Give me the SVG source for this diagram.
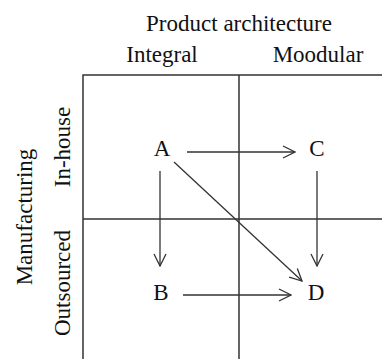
<svg xmlns="http://www.w3.org/2000/svg" width="382" height="359" viewBox="0 0 382 359">
<defs>
<style>
text{font-family:"Liberation Serif","Times New Roman",serif;font-size:23px;fill:#111;text-anchor:middle}
.grid{stroke:#333;stroke-width:1.5;fill:none}
.conn{stroke:#333;stroke-width:1.3;fill:none;marker-end:url(#arr)}
</style>
<marker id="arr" viewBox="0 0 14 14" refX="13" refY="7" markerWidth="14" markerHeight="14" markerUnits="userSpaceOnUse" orient="auto">
<path d="M1,1 L13,7 L1,13" fill="none" stroke="#333" stroke-width="1.3"/>
</marker>
</defs>
<rect width="382" height="359" fill="#fff"/>
<g id="axes">
<text x="239" y="31">Product architecture</text>
<text x="162" y="62">Integral</text>
<text x="318" y="62">Moodular</text>
<text transform="translate(32,217) rotate(-90)">Manufacturing</text>
<text transform="translate(70,147) rotate(-90)">In-house</text>
<text transform="translate(70,283) rotate(-90)">Outsourced</text>
</g>
<g id="grid">
<path class="grid" d="M83,359 V75 H382 M239,75 V359 M83,219 H382"/>
</g>
<g id="node-A"><text x="162" y="156">A</text></g>
<g id="node-B"><text x="161" y="300">B</text></g>
<g id="node-C"><text x="317" y="156">C</text></g>
<g id="node-D"><text x="316" y="300">D</text></g>
<g id="connectors">
<line class="conn" x1="187" y1="152" x2="295" y2="152"/>
<line class="conn" x1="160" y1="171" x2="160" y2="266"/>
<line class="conn" x1="317" y1="171" x2="317" y2="266"/>
<line class="conn" x1="183" y1="295" x2="291" y2="295"/>
<line class="conn" x1="174" y1="162" x2="302" y2="281"/>
</g>
</svg>
